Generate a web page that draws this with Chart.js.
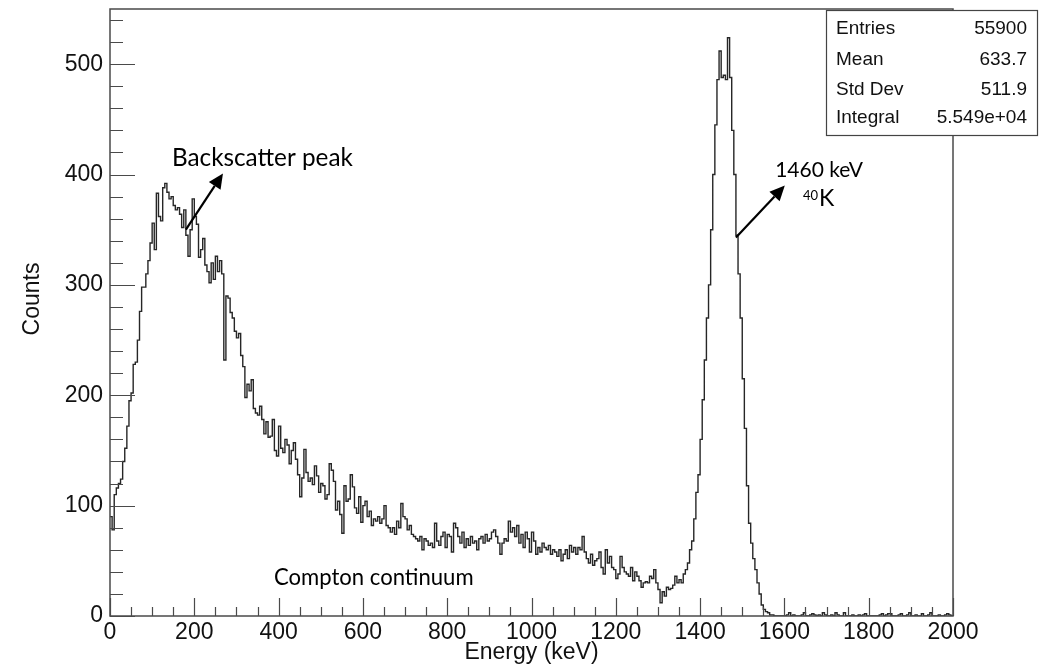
<!DOCTYPE html>
<html>
<head>
<meta charset="utf-8">
<title>Gamma spectrum</title>
<script src="https://cdn.jsdelivr.net/npm/chart.js@4.4.0/dist/chart.umd.min.js"></script>
<style>
  html, body { margin: 0; padding: 0; background: #fff; }
</style>
</head>
<body>
<canvas id="spectrum" width="1043" height="670"></canvas>
<script>
// histogram: 400 bins of 5 keV from 0 to 2000 keV
const binWidth = 5;

// 0 - 350 keV (rise + backscatter peak)
const countsBackscatter = [
  90, 78, 110, 116, 120, 124, 140, 152, 172, 195,
  202, 228, 230, 250, 276, 298, 298, 310, 322, 338,
  356, 332, 383, 362, 358, 388, 392, 384, 378, 380,
  372, 368, 370, 364, 352, 368, 345, 326, 350, 378,
  362, 355, 325, 332, 342, 318, 312, 302, 320, 305,
  326, 312, 322, 310, 232, 290, 288, 275, 270, 258,
  252, 256, 236, 226, 198, 210, 204, 214, 188, 184
];
// 350 - 750 keV (compton falling edge)
const countsCompton = [
  182, 190, 178, 165, 176, 162, 163, 178, 150, 145,
  172, 152, 148, 160, 155, 138, 150, 157, 142, 128,
  108, 125, 151, 130, 122, 125, 119, 136, 127, 112,
  120, 118, 106, 110, 138, 132, 122, 96, 104, 92,
  75, 118, 104, 106, 128, 117, 98, 93, 108, 85,
  100, 104, 90, 95, 82, 88, 86, 90, 84, 88,
  100, 82, 80, 76, 80, 74, 86, 80, 102, 90,
  88, 78, 82, 74, 72, 70, 68, 72, 60, 70
];
// 750 - 1350 keV (flat continuum)
const countsContinuum = [
  68, 64, 66, 62, 84, 68, 64, 72, 76, 62,
  74, 72, 58, 84, 80, 72, 66, 76, 62, 70,
  64, 72, 66, 68, 60, 70, 72, 66, 74, 68,
  70, 76, 78, 72, 66, 56, 66, 70, 68, 86,
  76, 80, 72, 82, 66, 74, 62, 76, 70, 58,
  76, 68, 56, 62, 58, 66, 62, 60, 64, 56,
  60, 58, 54, 60, 50, 56, 60, 52, 64, 58,
  62, 56, 62, 60, 72, 58, 52, 48, 56, 46,
  50, 52, 58, 44, 38, 60, 48, 54, 44, 42,
  34, 38, 54, 44, 40, 38, 36, 44, 32, 40,
  36, 32, 26, 30, 31, 30, 36, 34, 42, 30,
  24, 12, 22, 18, 26, 24, 25, 28, 36, 30
];
// 1350 - 1600 keV (40K photopeak)
const countsPeak = [
  33, 30, 38, 42, 48, 60, 68, 88, 112, 128,
  160, 196, 232, 270, 300, 350, 400, 445, 486, 512,
  488, 490, 486, 524, 488, 440, 400, 345, 310, 270,
  215, 170, 118, 84, 66, 52, 42, 30, 20, 10,
  6, 4, 3, 1, 1, 0, 0, 0, 0, 0
];
// 1600 - 2000 keV (tail)
const countsTail = [
  0, 1, 3, 0, 1, 0, 0, 0, 1, 3, 0, 0, 1, 2, 1, 0, 1, 0, 3, 1,
  0, 0, 1, 0, 3, 1, 0, 0, 3, 0, 0, 0, 1, 0, 0, 1, 0, 1, 2, 0,
  0, 0, 0, 0, 0, 1, 2, 0, 1, 2, 2, 0, 0, 0, 1, 2, 0, 0, 1, 3,
  0, 0, 1, 0, 0, 2, 0, 0, 1, 3, 0, 0, 0, 1, 0, 0, 1, 2, 1, 0
];

const statsLabels = ['Entries', 'Mean', 'Std Dev', 'Integral'];
const statsValues = ['55900', '633.7', '511.9', '5.549e+04'];

// axis divisions (ROOT style: labelled + minor ticks)
const xMajor = 200, xMinor = 50, xMax = 2000;
const yMajor = 100, yMinor = 20, yMax = 550;

// build the step histogram points from the bin low edges
const allCounts = [].concat(countsBackscatter, countsCompton, countsContinuum, countsPeak, countsTail);
const points = allCounts.map((c, i) => ({ x: i * binWidth, y: c }));
points.push({ x: allCounts.length * binWidth, y: allCounts[allCounts.length - 1] });

const FONT = '"Liberation Sans", Arial, Helvetica, sans-serif';
const NOTE_FONT = 'Lato, "Open Sans", sans-serif';

function fitFont(ctx, text, width, family) {
  ctx.font = '100px ' + family;
  return 100 * width / ctx.measureText(text).width;
}

function arrow(ctx, x1, y1, x2, y2) {
  const ang = Math.atan2(y2 - y1, x2 - x1);
  const head = 15, half = 7;
  const bx = x2 - head * Math.cos(ang), by = y2 - head * Math.sin(ang);
  ctx.beginPath();
  ctx.moveTo(x1, y1);
  ctx.lineTo(bx, by);
  ctx.stroke();
  ctx.beginPath();
  ctx.moveTo(x2, y2);
  ctx.lineTo(bx + half * Math.sin(ang), by - half * Math.cos(ang));
  ctx.lineTo(bx - half * Math.sin(ang), by + half * Math.cos(ang));
  ctx.closePath();
  ctx.fill();
}

// frame + inward ticks like a ROOT canvas
const rootFrame = {
  id: 'rootFrame',
  afterDatasetsDraw(chart) {
    const { ctx, chartArea: a, scales: { x, y } } = chart;
    ctx.save();
    ctx.strokeStyle = '#4a4a4a';
    ctx.lineWidth = 1.5;
    ctx.strokeRect(a.left, a.top, a.right - a.left, a.bottom - a.top);
    ctx.lineWidth = 1.2;
    ctx.beginPath();
    for (let v = 0; v <= xMax; v += xMinor) {
      const px = Math.round(x.getPixelForValue(v)) + 0.5;
      const len = v % xMajor === 0 ? 18 : 9;
      ctx.moveTo(px, a.bottom);
      ctx.lineTo(px, a.bottom - len);
    }
    for (let v = 0; v < yMax; v += yMinor) {
      const py = Math.round(y.getPixelForValue(v)) + 0.5;
      const len = v % yMajor === 0 ? 25 : 13;
      ctx.moveTo(a.left, py);
      ctx.lineTo(a.left + len, py);
    }
    ctx.stroke();
    ctx.restore();
  }
};

// axis titles, notes and the stats box
const notes = {
  id: 'notes',
  afterDraw(chart) {
    const { ctx, scales: { x, y } } = chart;
    ctx.save();
    ctx.fillStyle = '#111';

    // axis titles
    ctx.font = '23px ' + FONT;
    ctx.textAlign = 'center';
    ctx.textBaseline = 'middle';
    ctx.fillText('Energy (keV)', (x.left + x.right) / 2, 653);
    ctx.save();
    ctx.translate(33, 299);
    ctx.rotate(-Math.PI / 2);
    ctx.fillText('Counts', 0, 0);
    ctx.restore();

    // annotations (anchored in data units)
    ctx.textAlign = 'left';
    ctx.textBaseline = 'alphabetic';
    ctx.fillStyle = '#000';
    let fs = fitFont(ctx, 'Backscatter peak', 181, NOTE_FONT);
    ctx.font = fs.toFixed(1) + 'px ' + NOTE_FONT;
    ctx.fillText('Backscatter peak', x.getPixelForValue(147), y.getPixelForValue(408));
    fs = fitFont(ctx, 'Compton continuum', 200, NOTE_FONT);
    ctx.font = fs.toFixed(1) + 'px ' + NOTE_FONT;
    ctx.fillText('Compton continuum', x.getPixelForValue(389), y.getPixelForValue(28));
    fs = fitFont(ctx, '1460 keV', 88, NOTE_FONT);
    ctx.font = fs.toFixed(1) + 'px ' + NOTE_FONT;
    ctx.fillText('1460 keV', x.getPixelForValue(1578), y.getPixelForValue(398));
    ctx.font = (fs * 0.62).toFixed(1) + 'px ' + NOTE_FONT;
    ctx.fillText('40', 803, 200);
    const supW = ctx.measureText('40').width;
    ctx.font = (fs * 1.1).toFixed(1) + 'px ' + NOTE_FONT;
    ctx.fillText('K', 803 + supW + 1, 206);

    ctx.strokeStyle = '#000';
    ctx.lineWidth = 2.2;
    arrow(ctx, x.getPixelForValue(180), y.getPixelForValue(350), x.getPixelForValue(268), y.getPixelForValue(401));
    arrow(ctx, x.getPixelForValue(1485), y.getPixelForValue(343), x.getPixelForValue(1601), y.getPixelForValue(390));

    // stats box
    const bx = 826, by = 10, bw = 211, bh = 125;
    ctx.fillStyle = '#fff';
    ctx.fillRect(bx, by, bw, bh);
    ctx.strokeStyle = '#444';
    ctx.lineWidth = 1.2;
    ctx.strokeRect(bx + 0.5, by + 0.5, bw, bh);
    ctx.fillStyle = '#111';
    ctx.font = '19px ' + FONT;
    ctx.textBaseline = 'middle';
    const rowY = [29, 60, 90, 118];
    statsLabels.forEach((lab, i) => {
      ctx.textAlign = 'left';
      ctx.fillText(lab, 836, rowY[i]);
      ctx.textAlign = 'right';
      ctx.fillText(statsValues[i], 1027, rowY[i]);
    });
    ctx.restore();
  }
};

const ctx = document.getElementById('spectrum').getContext('2d');
new Chart(ctx, {
  type: 'line',
  data: {
    datasets: [{
      label: 'Counts',
      data: points,
      stepped: 'before',
      borderColor: '#262626',
      borderWidth: 1.4,
      pointRadius: 0,
      fill: false,
      tension: 0
    }]
  },
  options: {
    responsive: false,
    animation: false,
    devicePixelRatio: 1,
    layout: { padding: { left: 0, right: 90, top: 9, bottom: 0 } },
    plugins: {
      legend: { display: false },
      tooltip: { enabled: false }
    },
    scales: {
      x: {
        type: 'linear',
        min: 0,
        max: xMax,
        grid: { display: false, drawTicks: false },
        border: { display: false },
        ticks: {
          stepSize: xMajor,
          includeBounds: false,
          autoSkip: false,
          maxRotation: 0,
          padding: 3,
          color: '#111',
          font: { family: FONT, size: 23 },
          callback: v => String(v)
        },
        afterFit: s => { s.height = 54; s.paddingLeft = 0; s.paddingRight = 0; }
      },
      y: {
        type: 'linear',
        min: 0,
        max: yMax,
        grid: { display: false, drawTicks: false },
        border: { display: false },
        ticks: {
          stepSize: yMajor,
          includeBounds: false,
          padding: 7,
          color: '#111',
          font: { family: FONT, size: 23 },
          callback: v => String(v)
        },
        afterFit: s => { s.width = 110; s.paddingTop = 0; s.paddingBottom = 0; }
      }
    }
  },
  plugins: [rootFrame, notes]
});
</script>
</body>
</html>
